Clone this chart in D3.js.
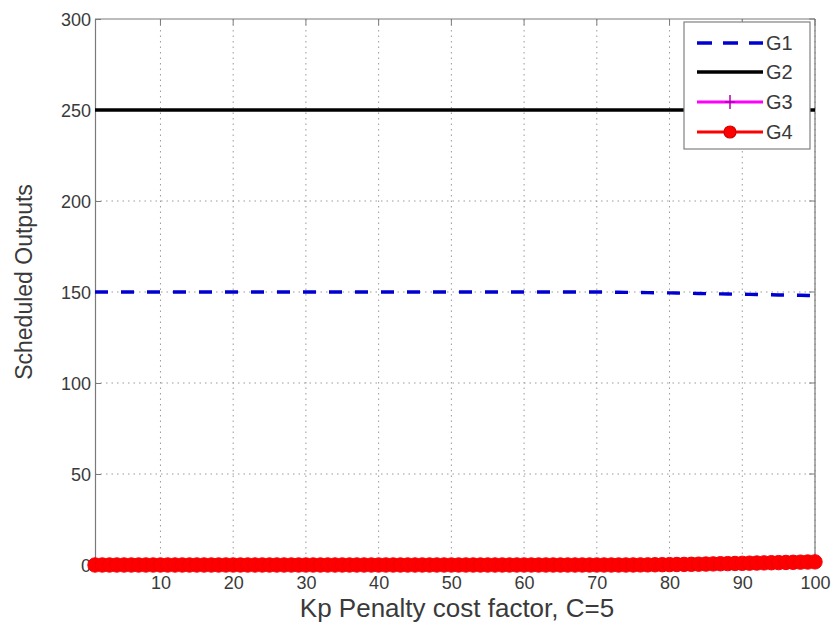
<!DOCTYPE html>
<html>
<head>
<meta charset="utf-8">
<script src="https://cdn.jsdelivr.net/npm/d3@7"></script>
<style>
  html, body { margin: 0; padding: 0; background: #fff; }
  svg { display: block; font-family: "Liberation Sans", Arial, sans-serif; }
</style>
</head>
<body>
<svg id="chart" width="833" height="626"></svg>
<script>
// ---- Data ----
const kpValues = [1,2,3,4,5,6,7,8,9,10,11,12,13,14,15,16,17,18,19,20,21,22,23,24,25,26,27,28,29,30,31,32,33,34,35,36,37,38,39,40,41,42,43,44,45,46,47,48,49,50,51,52,53,54,55,56,57,58,59,60,61,62,63,64,65,66,67,68,69,70,71,72,73,74,75,76,77,78,79,80,81,82,83,84,85,86,87,88,89,90,91,92,93,94,95,96,97,98,99,100];

const g1 = [150,150,150,150,150,150,150,150,150,150,150,150,150,150,150,150,150,150,150,150,150,150,150,150,150,150,150,150,150,150,150,150,150,150,150,150,150,150,150,150,150,150,150,150,150,150,150,150,150,150,150,150,150,150,150,150,150,150,150,150,150,150,150,150,150,150,150,150,150,150,
  149.95,149.9,149.85,149.8,149.75,149.7,149.65,149.6,149.55,149.5,149.42,149.35,149.28,149.2,149.12,149.05,148.97,148.9,148.82,148.75,148.68,148.6,148.53,148.46,148.39,148.32,148.25,148.18,148.1,148.0];

const g2 = [250,250,250,250,250,250,250,250,250,250,250,250,250,250,250,250,250,250,250,250,250,250,250,250,250,250,250,250,250,250,250,250,250,250,250,250,250,250,250,250,250,250,250,250,250,250,250,250,250,250,250,250,250,250,250,250,250,250,250,250,250,250,250,250,250,250,250,250,250,250,250,250,250,250,250,250,250,250,250,250,250,250,250,250,250,250,250,250,250,250,250,250,250,250,250,250,250,250,250,250];

const g3 = [0,0,0,0,0,0,0,0,0,0,0,0,0,0,0,0,0,0,0,0,0,0,0,0,0,0,0,0,0,0,0,0,0,0,0,0,0,0,0,0,0,0,0,0,0,0,0,0,0,0,0,0,0,0,0,0,0,0,0,0,0,0,0,0,0,0,0,0,0,0,0,0,0,0,0,0,0,0,0,0,
  0.05,0.1,0.15,0.2,0.25,0.3,0.35,0.4,0.45,0.5,0.55,0.6,0.65,0.7,0.75,0.8,0.85,0.9,0.95,1.0];

const g4 = [0,0,0,0,0,0,0,0,0,0,0,0,0,0,0,0,0,0,0,0,0,0,0,0,0,0,0,0,0,0,0,0,0,0,0,0,0,0,0,0,0,0,0,0,0,0,0,0,0,0,0,0,0,0,0,0,0,0,0,0,0,0,0,0,0,0,0,0,0,0,0,0,0,0,0.02,0.05,0.08,0.12,0.16,0.2,
  0.26,0.32,0.38,0.45,0.52,0.6,0.68,0.76,0.84,0.92,1.0,1.08,1.16,1.24,1.32,1.4,1.48,1.56,1.64,1.72];

const xTicks = [10,20,30,40,50,60,70,80,90,100];
const yTicks = [0,50,100,150,200,250,300];
const seriesNames = ["G1","G2","G3","G4"];
const xLabel = "Kp Penalty cost factor, C=5";
const yLabel = "Scheduled Outputs";

// ---- Layout ----
const svg = d3.select("#chart");
const pLeft = 95, pRight = 815, pTop = 19, pBottom = 565;

const x = d3.scaleLinear().domain([1, 100]).range([pLeft, pRight]);
const y = d3.scaleLinear().domain([0, 300]).range([pBottom, pTop]);

const axisColor = "#7a7a7a";
const textColor = "#3a3a3a";

// grid
const grid = svg.append("g");
grid.selectAll("line.vx").data(xTicks).enter().append("line")
  .attr("x1", d => x(d)).attr("x2", d => x(d))
  .attr("y1", pTop).attr("y2", pBottom)
  .attr("stroke", "#9a9a9a").attr("stroke-width", 1)
  .attr("stroke-dasharray", "1.5,4");
grid.selectAll("line.hy").data(yTicks.filter(d => d > 0 && d < 300)).enter().append("line")
  .attr("x1", pLeft).attr("x2", pRight)
  .attr("y1", d => y(d)).attr("y2", d => y(d))
  .attr("stroke", "#9a9a9a").attr("stroke-width", 1)
  .attr("stroke-dasharray", "1.5,4");

// axes
const xAxis = d3.axisBottom(x).tickValues(xTicks).tickSize(-6).tickPadding(11).tickFormat(d3.format("d"));
const yAxis = d3.axisLeft(y).tickValues(yTicks).tickSize(-6).tickPadding(4).tickFormat(d3.format("d"));

const gx = svg.append("g").attr("transform", `translate(0,${pBottom})`).call(xAxis);
const gy = svg.append("g").attr("transform", `translate(${pLeft},0)`).call(yAxis);
[gx, gy].forEach(g => {
  g.select(".domain").attr("stroke", axisColor).attr("stroke-width", 1.2);
  g.selectAll(".tick line").attr("stroke", axisColor);
  g.selectAll(".tick text").attr("fill", textColor).style("font-size", "18px")
    .style("font-family", "'Liberation Sans', Arial, sans-serif");
});
gy.selectAll(".tick text").attr("dy", "0.35em");

// top and right box lines with ticks
svg.append("line").attr("x1", pLeft).attr("x2", pRight).attr("y1", pTop).attr("y2", pTop)
  .attr("stroke", axisColor).attr("stroke-width", 1.2);
svg.append("line").attr("x1", pRight).attr("x2", pRight).attr("y1", pTop).attr("y2", pBottom)
  .attr("stroke", axisColor).attr("stroke-width", 1.2);
svg.append("g").selectAll("line").data(xTicks).enter().append("line")
  .attr("x1", d => x(d)).attr("x2", d => x(d)).attr("y1", pTop).attr("y2", pTop + 6)
  .attr("stroke", axisColor);
svg.append("g").selectAll("line").data(yTicks).enter().append("line")
  .attr("x1", pRight - 6).attr("x2", pRight).attr("y1", d => y(d)).attr("y2", d => y(d))
  .attr("stroke", axisColor);

// series
const line = d3.line().x((d, i) => x(kpValues[i])).y(d => y(d));
const plot = svg.append("g");

plot.append("path").datum(g1).attr("d", line)
  .attr("fill", "none").attr("stroke", "#0000d0").attr("stroke-width", 3.4)
  .attr("stroke-dasharray", "13,13");

plot.append("path").datum(g2).attr("d", line)
  .attr("fill", "none").attr("stroke", "#000").attr("stroke-width", 3.6);

plot.append("path").datum(g3).attr("d", line)
  .attr("fill", "none").attr("stroke", "#ff00ff").attr("stroke-width", 3);
plot.append("g").selectAll("path").data(g3).enter().append("path")
  .attr("d", (d, i) => {
    const cx = x(kpValues[i]), cy = y(d);
    return `M${cx - 5},${cy}H${cx + 5}M${cx},${cy - 5}V${cy + 5}`;
  })
  .attr("stroke", "#ff00ff").attr("stroke-width", 1.5);

plot.append("path").datum(g4).attr("d", line)
  .attr("fill", "none").attr("stroke", "#ff0000").attr("stroke-width", 3);
plot.append("g").selectAll("circle").data(g4).enter().append("circle")
  .attr("cx", (d, i) => x(kpValues[i])).attr("cy", d => y(d)).attr("r", 7.2)
  .attr("fill", "#ff0000").attr("stroke", "#f00008").attr("stroke-width", 1);

// legend
const lg = svg.append("g");
lg.append("rect").attr("x", 684).attr("y", 22).attr("width", 126).attr("height", 127)
  .attr("fill", "#fff").attr("stroke", "#808080").attr("stroke-width", 1.2);
const legendY = [43, 72, 102, 132];
const lx1 = 697, lx2 = 763;
seriesNames.forEach((name, i) => {
  const ly = legendY[i];
  const ln = lg.append("line").attr("x1", lx1).attr("x2", lx2).attr("y1", ly).attr("y2", ly);
  if (i === 0) ln.attr("stroke", "#0000d0").attr("stroke-width", 3.4).attr("stroke-dasharray", "15,11");
  if (i === 1) ln.attr("stroke", "#000").attr("stroke-width", 3.6);
  if (i === 2) {
    ln.attr("stroke", "#ff00ff").attr("stroke-width", 3);
    lg.append("path").attr("d", `M${(lx1+lx2)/2},${ly-7}V${ly+7}M${(lx1+lx2)/2-5},${ly}H${(lx1+lx2)/2+5}`)
      .attr("stroke", "#b000b0").attr("stroke-width", 1.5);
  }
  if (i === 3) {
    ln.attr("stroke", "#ff0000").attr("stroke-width", 3);
    lg.append("circle").attr("cx", (lx1+lx2)/2).attr("cy", ly).attr("r", 6)
      .attr("fill", "#ff0000").attr("stroke", "#d00000").attr("stroke-width", 1.2);
  }
  lg.append("text").attr("x", 766).attr("y", ly).attr("dy", "0.36em")
    .attr("fill", textColor).style("font-size", "20px").text(name);
});

// axis labels
svg.append("text").attr("x", (pLeft + pRight) / 2 + 2).attr("y", 617)
  .attr("text-anchor", "middle").attr("fill", textColor).style("font-size", "26px").text(xLabel);
svg.append("text").attr("transform", `translate(32,${(pTop + pBottom) / 2 - 10}) rotate(-90)`)
  .attr("text-anchor", "middle").attr("fill", textColor).style("font-size", "23px").text(yLabel);
</script>
</body>
</html>
